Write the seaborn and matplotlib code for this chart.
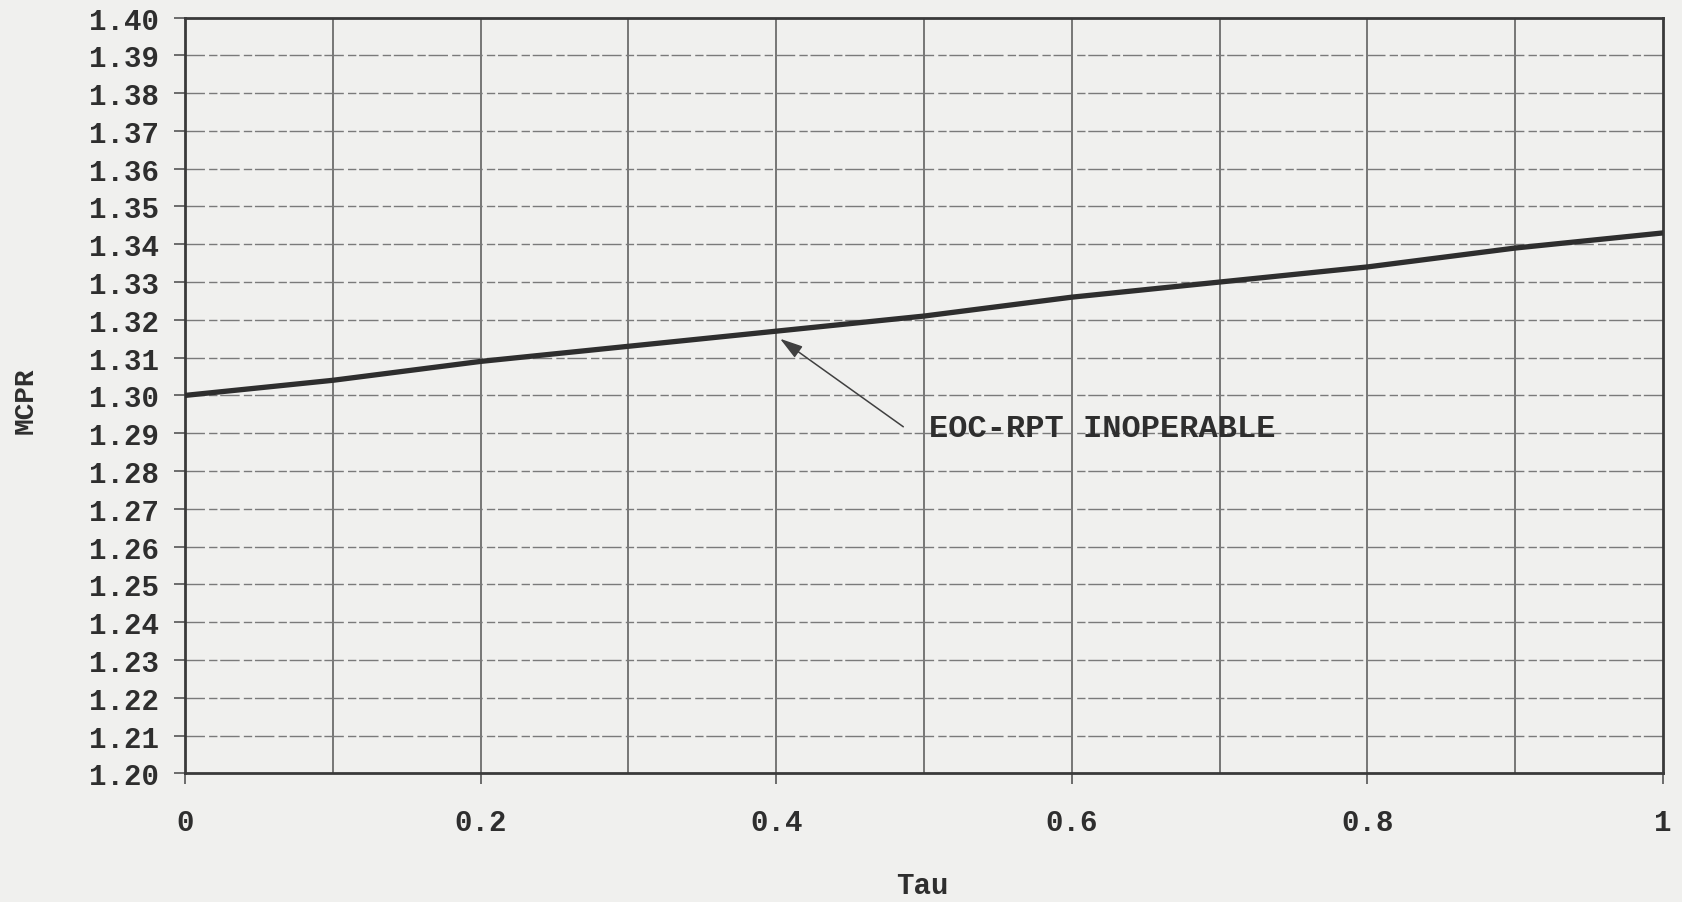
import numpy as np
import pandas as pd
import matplotlib
matplotlib.use("Agg")
import matplotlib.pyplot as plt
import seaborn as sns

# MCPR limit versus Tau
tau = [0.0, 0.1, 0.2, 0.3, 0.4, 0.5, 0.6, 0.7, 0.8, 0.9, 1.0]
mcpr = [1.300, 1.304, 1.309, 1.313, 1.317, 1.321, 1.326, 1.330, 1.334, 1.339, 1.343]

x_ticks = [0, 0.2, 0.4, 0.6, 0.8, 1]
x_tick_labels = ["0", "0.2", "0.4", "0.6", "0.8", "1"]
y_ticks = [round(1.20 + 0.01 * i, 2) for i in range(21)]
y_tick_labels = [f"{v:.2f}" for v in y_ticks]

curve_label = "EOC-RPT INOPERABLE"

sns.set_style("white")
plt.rcParams["font.family"] = ["Liberation Mono", "DejaVu Sans Mono"]
plt.rcParams["font.weight"] = "bold"

paper = "#f0f0ee"
ink = "#2e2e2e"
fs = 21

fig = plt.figure(figsize=(16.82, 9.03), dpi=100, facecolor=paper)
ax = fig.add_axes([0.110, 0.1425, 0.8787, 0.8370])
ax.set_facecolor(paper)

df = pd.DataFrame({"Tau": tau, "MCPR": mcpr})

# grid: vertical every 0.1, horizontal every 0.01
for xv in np.arange(0.1, 1.0, 0.1):
    ax.axvline(xv, color="#555555", lw=1.1, zorder=1)
for yv in y_ticks[1:-1]:
    ax.axhline(yv, color="#7a7a7a", lw=1.0, ls=(0, (14, 3, 6, 2)), zorder=1)

sns.lineplot(data=df, x="Tau", y="MCPR", ax=ax, color=ink, lw=3.8, zorder=3)

ax.set_xlim(0, 1)
ax.set_ylim(1.20, 1.40)
ax.set_xticks(x_ticks)
ax.set_xticklabels(x_tick_labels)
ax.set_yticks(y_ticks)
ax.set_yticklabels(y_tick_labels)
ax.tick_params(axis="y", direction="out", length=8, width=1.2, color="#555555",
               pad=11, labelsize=fs, labelcolor=ink, left=True)
ax.tick_params(axis="x", direction="out", length=8, width=1.2, color="#555555",
               pad=17, labelsize=fs, labelcolor=ink, bottom=True)
for lab in ax.get_xticklabels() + ax.get_yticklabels():
    lab.set_fontweight("bold")

for side in ["left", "right", "top", "bottom"]:
    ax.spines[side].set_visible(True)
    ax.spines[side].set_color("#3a3a3a")
    ax.spines[side].set_linewidth(2.0)

ax.set_xlabel("Tau", fontsize=fs, fontweight="bold", color=ink)
ax.set_ylabel("MCPR", fontsize=fs - 1, fontweight="bold", color=ink)
ax.xaxis.label.set_va("center")
ax.yaxis.label.set_va("center")
ax.xaxis.set_label_coords(0.499, -0.148)
ax.yaxis.set_label_coords(-0.108, 0.494)

ax.text(0.5035, 1.2915, curve_label, fontsize=fs + 2, fontweight="bold",
        color=ink, va="center", ha="left", zorder=4)
ax.annotate("", xy=(0.4026, 1.3150), xytext=(0.486, 1.2917),
            arrowprops=dict(arrowstyle="-|>,head_length=1.4,head_width=0.42",
                            color="#404040", lw=1.1, shrinkA=0, shrinkB=0),
            zorder=4)

fig.savefig("out.png", dpi=100, facecolor=paper)
